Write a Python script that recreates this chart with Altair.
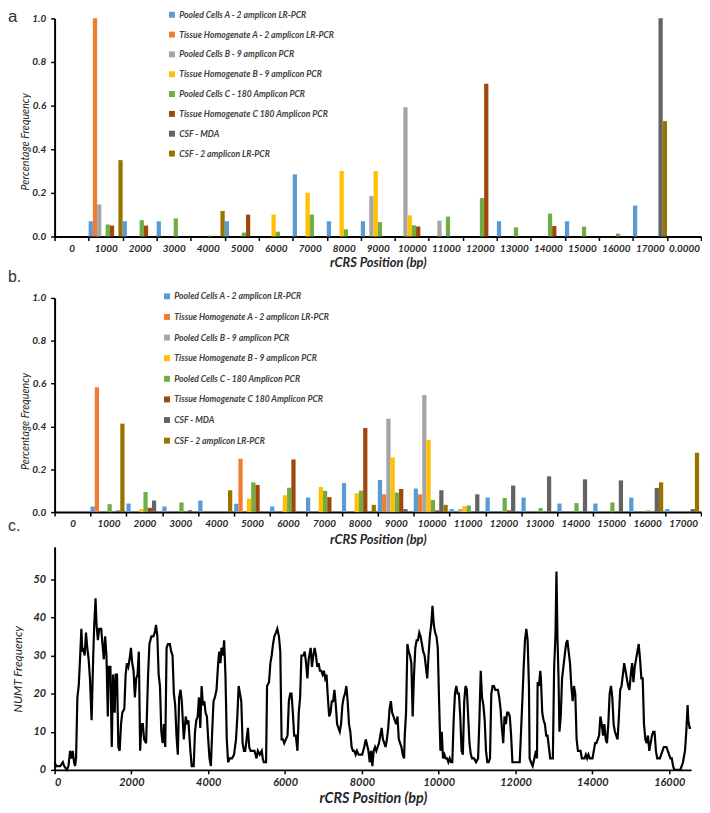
import altair as alt
import pandas as pd

FONT = "Lato"
TXT = "#262626"

series = [
    "Pooled Cells A - 2 amplicon LR-PCR",
    "Tissue Homogenate A - 2 amplicon LR-PCR",
    "Pooled Cells B - 9 amplicon PCR",
    "Tissue Homogenate B - 9 amplicon PCR",
    "Pooled Cells C - 180 Amplicon PCR",
    "Tissue Homogenate C 180 Amplicon PCR",
    "CSF - MDA",
    "CSF - 2 amplicon LR-PCR",
]
colors = ["#5B9BD5", "#ED7D31", "#A5A5A5", "#FFC000", "#70AD47", "#9E480E", "#636363", "#997300"]

# ---------------- panel a ----------------
cats_a = ["0", "1000", "2000", "3000", "4000", "5000", "6000", "7000", "8000", "9000",
          "10000", "11000", "12000", "13000", "14000", "15000", "16000", "17000", "0.0000"]
a_pc_a = [0, 0.07, 0.07, 0.07, 0, 0.07, 0, 0.285, 0.07, 0.07, 0, 0, 0, 0.07, 0, 0.07, 0, 0.142, 0]
a_th_a = [0, 1.0, 0, 0, 0, 0, 0, 0, 0, 0, 0, 0, 0, 0, 0, 0, 0, 0, 0]
a_pc_b = [0, 0.147, 0, 0, 0, 0, 0, 0, 0, 0.185, 0.592, 0.073, 0, 0, 0, 0, 0, 0, 0]
a_th_b = [0, 0, 0, 0, 0, 0, 0.1, 0.2, 0.3, 0.3, 0.097, 0, 0, 0, 0, 0, 0, 0, 0]
a_pc_c = [0, 0.055, 0.075, 0.083, 0.004, 0.018, 0.022, 0.1, 0.033, 0.066, 0.051, 0.091, 0.176, 0.042, 0.105, 0.045, 0.013, 0, 0]
a_th_c = [0, 0.05, 0.05, 0, 0, 0.1, 0, 0, 0, 0, 0.046, 0, 0.70, 0, 0.048, 0, 0, 0, 0]
a_mda = [0, 0, 0, 0, 0, 0, 0, 0, 0, 0, 0, 0, 0, 0, 0, 0, 0, 1.0, 0]
a_csf2 = [0, 0.35, 0, 0, 0.117, 0, 0, 0, 0, 0, 0, 0, 0, 0, 0, 0, 0, 0.529, 0]

# ---------------- panel b ----------------
cats_b = ["0", "1000", "2000", "3000", "4000", "5000", "6000", "7000", "8000", "9000",
          "10000", "11000", "12000", "13000", "14000", "15000", "16000", "17000"]
b_pc_a = [0, 0.026, 0.04, 0.026, 0.054, 0.039, 0.026, 0.068, 0.136, 0.15, 0.11, 0.014, 0.068, 0.068, 0.04, 0.04, 0.068, 0.014]
b_th_a = [0, 0.583, 0, 0, 0, 0.249, 0, 0, 0, 0.083, 0.083, 0, 0, 0, 0, 0, 0, 0]
b_pc_b = [0, 0, 0, 0, 0, 0, 0, 0, 0, 0.436, 0.547, 0.014, 0, 0, 0, 0, 0, 0]
b_th_b = [0, 0, 0.014, 0, 0, 0.063, 0.079, 0.117, 0.088, 0.255, 0.337, 0.028, 0, 0, 0, 0, 0, 0]
b_pc_c = [0, 0.037, 0.094, 0.045, 0, 0.139, 0.114, 0.099, 0.10, 0.091, 0.057, 0.031, 0.066, 0.019, 0.042, 0.045, 0.008, 0]
b_th_c = [0, 0, 0.02, 0, 0, 0.127, 0.246, 0.07, 0.393, 0.108, 0.008, 0, 0.008, 0, 0, 0, 0, 0]
b_mda = [0, 0.008, 0.054, 0.009, 0, 0, 0, 0, 0, 0.014, 0.102, 0.083, 0.124, 0.167, 0.153, 0.148, 0.113, 0.014]
b_csf2 = [0, 0.413, 0, 0, 0.102, 0, 0, 0, 0.034, 0, 0.034, 0, 0, 0, 0, 0, 0.139, 0.277]

# ---------------- panel c (NUMT frequency along rCRS) ----------------
c_pos_1 = [0, 43, 146, 215, 249, 318, 361, 404, 447, 473, 507, 533, 559, 593, 628, 662, 697, 722, 748, 783,
           817, 851, 886, 920, 963, 1006, 1032, 1066, 1092, 1127, 1161, 1213, 1247, 1281, 1316, 1350, 1385, 1410, 1453, 1488,
           1522, 1565, 1591, 1625, 1660, 1694, 1729, 1763, 1815, 1849, 1883, 1918, 1952, 1987, 2021, 2055, 2090, 2124, 2159, 2193,
           2227, 2262, 2296, 2331, 2382, 2434, 2468, 2520, 2571, 2606, 2640, 2675, 2709, 2743, 2778, 2812, 2847, 2881, 2915, 2950,
           3001, 3036, 3070, 3105, 3139, 3173, 3208, 3242, 3277, 3311, 3363, 3414, 3449, 3483, 3535, 3569, 3621, 3655, 3689, 3724,
           3758, 3793, 3827, 3861, 3896, 3930, 3965, 3999, 4033, 4068, 4102, 4137]
c_val_1 = [2, 1, 1, 2, 1, 0, 1, 5, 3, 5, 2, 1, 3, 19, 22, 29, 37, 31, 32, 30,
           36, 32, 29, 24, 13, 30, 38, 45, 38, 34, 37, 37, 33, 29, 35, 30, 14, 27, 27, 6,
           25, 15, 25, 25, 6, 5, 12, 15, 16, 25, 28, 27, 29, 32, 28, 26, 19, 24, 25, 31,
           5, 12, 12, 8, 7, 25, 33, 35, 35, 36, 38, 35, 25, 22, 10, 7, 12, 6, 32, 33,
           33, 31, 30, 20, 17, 9, 4, 19, 21, 18, 8, 14, 12, 13, 5, 1, 1, 10, 13, 14,
           19, 11, 22, 17, 18, 15, 14, 8, 3, 1, 10, 18]
c_pos_2 = [4172, 4215, 4258, 4284, 4318, 4344, 4387, 4413, 4447, 4482, 4516, 4559, 4619, 4671, 4722, 4757, 4791, 4826, 4860, 4894,
           4929, 4963, 4998, 5032, 5066, 5101, 5152, 5204, 5256, 5290, 5342, 5393, 5419, 5445, 5505, 5531, 5582, 5617, 5651, 5686,
           5720, 5763, 5797, 5840, 5875, 5909, 5944, 5978, 6021, 6064, 6098, 6133, 6167, 6202, 6236, 6279, 6322, 6356, 6391, 6425,
           6477, 6511, 6546, 6580, 6614, 6666, 6700, 6735, 6769, 6804, 6838, 6872, 6907, 6941, 6976, 7010, 7044, 7079, 7113, 7148,
           7182, 7216, 7251, 7285, 7320, 7354, 7388, 7423, 7457, 7492, 7526, 7560, 7595, 7629, 7664, 7698, 7732, 7767, 7801, 7836,
           7870, 7913, 7956, 8008, 8059]
c_val_2 = [19, 21, 28, 31, 28, 32, 30, 34, 25, 8, 2, 3, 3, 4, 8, 14, 22, 20, 18, 7,
           5, 5, 8, 11, 6, 5, 5, 5, 3, 5, 4, 5, 3, 2, 2, 22, 23, 28, 30, 33,
           35, 36, 37, 35, 31, 8, 8, 7, 8, 9, 18, 20, 20, 15, 9, 9, 5, 15, 19, 30,
           30, 31, 28, 24, 29, 32, 27, 30, 32, 30, 27, 28, 26, 26, 25, 26, 24, 25, 19, 14,
           15, 18, 18, 21, 17, 12, 11, 10, 12, 17, 19, 20, 22, 18, 12, 10, 6, 5, 5, 4,
           5, 4, 4, 4, 6]
c_pos_3 = [8100, 8169, 8203, 8238, 8272, 8306, 8341, 8375, 8410, 8444, 8478, 8513, 8547, 8582, 8616, 8650, 8685, 8719, 8754, 8788,
           8822, 8857, 8891, 8926, 8960, 8994, 9029, 9063, 9098, 9115, 9149, 9184, 9218, 9252, 9287, 9321, 9356, 9390, 9424, 9459,
           9493, 9528, 9562, 9596, 9631, 9665, 9700, 9734, 9768, 9803, 9837, 9872, 9906, 9940, 9975, 10009, 10044, 10078, 10112, 10147,
           10181, 10216, 10250, 10284, 10319, 10353, 10388, 10422, 10456, 10491, 10525, 10560, 10594, 10628, 10663, 10697, 10732, 10766, 10800, 10835,
           10869, 10921, 10972, 11024, 11058, 11093, 11127, 11162, 11196, 11230, 11265, 11299, 11334, 11368, 11402, 11437, 11471, 11506, 11540, 11574,
           11609, 11643, 11678, 11712, 11746, 11781, 11815, 11850, 11884, 11918, 11953, 12004, 12056, 12108, 12142, 12176, 12211, 12245, 12280, 12314,
           12348, 12366]
c_val_3 = [8, 5, 2, 5, 1, 5, 6, 5, 6, 7, 9, 11, 8, 7, 6, 8, 11, 16, 18, 15,
           14, 13, 12, 14, 8, 7, 6, 4, 3, 9, 15, 33, 31, 30, 28, 14, 25, 32, 34, 34,
           36, 35, 33, 31, 30, 27, 24, 30, 35, 38, 43, 38, 36, 35, 32, 18, 5, 10, 3, 4,
           3, 3, 2, 3, 2, 2, 13, 20, 22, 20, 20, 14, 5, 4, 18, 22, 21, 14, 7, 4,
           3, 3, 2, 3, 13, 26, 19, 17, 13, 5, 2, 2, 3, 20, 22, 22, 21, 21, 21, 19,
           16, 11, 7, 14, 12, 15, 15, 14, 9, 2, 2, 2, 2, 2, 10, 18, 27, 34, 37, 34,
           22, 3]
c_pos_4 = [12402, 12445, 12488, 12531, 12557, 12574, 12608, 12643, 12660, 12694, 12729, 12763, 12798, 12832, 12866, 12901, 12935, 12970, 13004, 13038,
           13064, 13090, 13116, 13142, 13176, 13210, 13245, 13279, 13314, 13348, 13382, 13417, 13451, 13486, 13520, 13554, 13589, 13623, 13658, 13692,
           13726, 13761, 13795, 13830, 13864, 13898, 13933, 13967, 14002, 14036, 14070, 14105, 14139, 14174, 14208, 14242, 14277, 14311, 14346, 14380,
           14414, 14449, 14483, 14518, 14552, 14586, 14621, 14655, 14690, 14724, 14758, 14793, 14827, 14862, 14896, 14930, 14965, 14999, 15034, 15068,
           15102, 15137, 15171, 15206, 15240, 15274, 15309, 15343, 15378, 15412, 15446, 15481, 15515, 15550, 15584, 15618, 15653, 15687, 15722, 15756,
           15790, 15825, 15859, 15894, 15928, 15962, 15997, 16031, 16066, 16100, 16134, 16186, 16255, 16289, 16324, 16358, 16410, 16444, 16478, 16496,
           16530, 16565]
c_val_4 = [2, 1, 3, 5, 3, 23, 22, 26, 24, 15, 13, 12, 9, 9, 6, 3, 3, 3, 27, 35,
           52, 35, 25, 10, 14, 24, 27, 30, 33, 34, 31, 28, 22, 18, 22, 20, 8, 5, 5, 5,
           3, 3, 3, 4, 3, 4, 3, 3, 3, 5, 7, 7, 8, 9, 14, 12, 9, 12, 8, 7,
           12, 20, 22, 19, 12, 10, 9, 8, 14, 21, 22, 25, 28, 26, 24, 22, 21, 25, 28, 23,
           27, 29, 31, 33, 29, 24, 24, 12, 8, 7, 9, 5, 7, 9, 10, 10, 5, 3, 3, 3,
           4, 5, 6, 6, 6, 5, 4, 3, 3, 1, 0, 0, 0, 0, 1, 2, 5, 10, 17, 13,
           11, 11]

c_ticks_x = [0, 2000, 4000, 6000, 8000, 10000, 12000, 14000, 16000]
c_ticks_y = [0, 10, 20, 30, 40, 50]
freq_ticks = [0, 0.2, 0.4, 0.6, 0.8, 1.0]


def long_df(cats, cols):
    rows = []
    for s, vals in zip(series, cols):
        for c, v in zip(cats, vals):
            if v > 0:
                rows.append({"pos": c, "series": s, "freq": v})
    return pd.DataFrame(rows)


df_a = long_df(cats_a, [a_pc_a, a_th_a, a_pc_b, a_th_b, a_pc_c, a_th_c, a_mda, a_csf2])
df_b = long_df(cats_b, [b_pc_a, b_th_a, b_pc_b, b_th_b, b_pc_c, b_th_c, b_mda, b_csf2])
df_c = pd.DataFrame({"bp": c_pos_1 + c_pos_2 + c_pos_3 + c_pos_4,
                     "n": c_val_1 + c_val_2 + c_val_3 + c_val_4})


def xaxis(title, **kw):
    opts = dict(title=title, labelAngle=0, grid=False, domainColor="black", domainWidth=2,
                tickColor="black", tickWidth=1.5, tickSize=4, labelFont=FONT, labelFontSize=10,
                labelFontStyle="italic", labelFontWeight="bold", labelColor=TXT, labelPadding=3,
                titleFont=FONT, titleFontSize=13, titleFontStyle="italic", titleFontWeight="bold",
                titleColor=TXT, titlePadding=3)
    opts.update(kw)
    return alt.Axis(**opts)


def yaxis(title, **kw):
    opts = dict(title=title, grid=False, domainColor="black", domainWidth=2,
                tickColor="black", tickWidth=1.5, tickSize=4, labelFont=FONT, labelFontSize=10,
                labelFontStyle="italic", labelFontWeight="bold", labelColor=TXT, labelPadding=5,
                titleFont=FONT, titleFontSize=10.8, titleFontStyle="italic", titleFontWeight="normal",
                titleColor=TXT, titleBaseline="middle", titleX=-29, titleY=124)
    opts.update(kw)
    return alt.Axis(**opts)


def label(text, x, y, size=16):
    return alt.Chart(pd.DataFrame({"t": [text]})).mark_text(
        align="left", baseline="middle", font="Liberation Sans", fontSize=size, color="#333333"
    ).encode(x=alt.value(x), y=alt.value(y), text="t:N")


def bar_panel(df, cats, lx, ly, rowpad, lpad, xtitle_pad=3):
    return alt.Chart(df).mark_bar().encode(
        x=alt.X("pos:N", scale=alt.Scale(domain=cats, paddingInner=0, paddingOuter=0),
                axis=xaxis("rCRS Position (bp)", tickBand="extent", titlePadding=xtitle_pad)),
        xOffset=alt.XOffset("series:N", scale=alt.Scale(domain=series, paddingInner=0, paddingOuter=0)),
        y=alt.Y("freq:Q", scale=alt.Scale(domain=[0, 1]),
                axis=yaxis("Percentage Frequency", values=freq_ticks, format=".1f")),
        color=alt.Color("series:N", scale=alt.Scale(domain=series, range=colors),
                        legend=alt.Legend(orient="none", legendX=lx, legendY=ly, direction="vertical",
                                          title=None, symbolType="square", symbolSize=36,
                                          symbolStrokeWidth=0, labelFont=FONT, labelFontSize=8.7,
                                          labelFontStyle="italic", labelFontWeight="bold",
                                          labelColor="#404040", labelOffset=3, rowPadding=rowpad,
                                          padding=lpad, labelLimit=400)),
    )


W = 652
panel_a = alt.layer(
    bar_panel(df_a, cats_a, 114, -8, 10, 0),
    label("a", -47, -1, 17),
    label("b.", -47, 261),
).properties(width=W, height=220)

panel_b = alt.layer(
    bar_panel(df_b, cats_b, 102, -13, 10.8, 7, xtitle_pad=5),
    label("c.", -47, 230),
).properties(width=W, height=216)

line_c = alt.Chart(df_c).mark_line(color="black", strokeWidth=2.2).encode(
    x=alt.X("bp:Q", scale=alt.Scale(domain=[0, 16569], nice=False, zero=False),
            axis=xaxis("rCRS Position (bp)", values=c_ticks_x, format="d", labelFontSize=11,
                       titleFontSize=14.5, titlePadding=4)),
    y=alt.Y("n:Q", scale=alt.Scale(domain=[0, 58.5], nice=False),
            axis=yaxis("NUMT Frequency", values=c_ticks_y, format="d", labelFontSize=11,
                       titleFontSize=12, titleX=-37, titleY=123)),
).properties(width=642, height=225)

chart = alt.vconcat(panel_a, panel_b, line_c, spacing=0).resolve_scale(
    color="independent"
).resolve_legend(color="independent").properties(
    padding={"top": -3, "left": 0, "right": 0, "bottom": 0}
).configure_view(stroke=None)

chart.save("out.html", embed_options={"renderer": "svg", "actions": False})
